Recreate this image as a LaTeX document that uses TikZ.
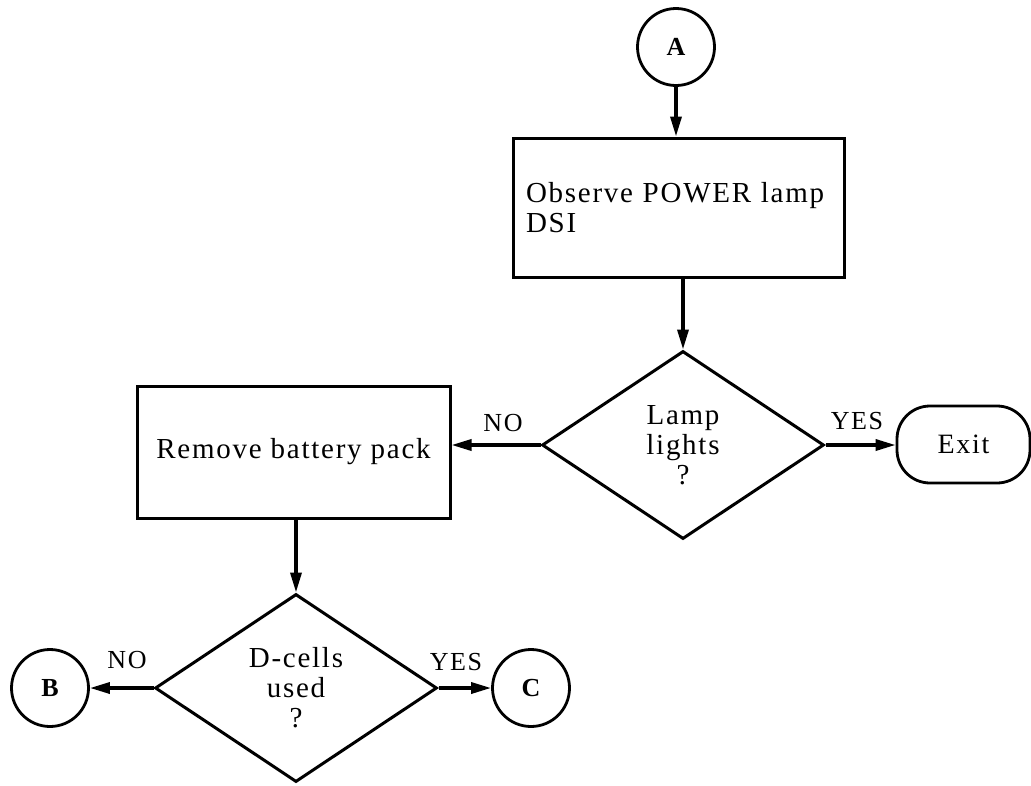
\documentclass[tikz,border=0pt]{standalone}
\usepackage{fontspec}
\setmainfont{Liberation Serif}[LetterSpace=6]
\usetikzlibrary{shapes.geometric,arrows.meta}
\begin{document}
\begin{tikzpicture}[x=1pt,y=-1pt,
  txt/.style={font=\fontsize{29}{30}\selectfont},
  lbl/.style={font=\fontsize{26}{26}\selectfont, inner sep=0pt},
  conn/.style={draw, circle, line width=2.8pt, minimum size=77pt, inner sep=0pt,
    font=\fontsize{26}{26}\selectfont\bfseries},
  stepbox/.style={draw, rectangle, line width=3pt, inner sep=0pt, txt},
  decide/.style={draw, diamond, line width=3pt, minimum width=282pt,
    minimum height=188pt, inner sep=0pt, align=center, txt},
  term/.style={draw, rectangle, rounded corners=33pt, line width=2.8pt,
    minimum width=133pt, minimum height=77pt, inner sep=0pt,
    font=\fontsize{28}{28}\selectfont},
  flow/.style={line width=3.4pt, -{Triangle[length=20pt,width=11pt]}}]
\useasboundingbox (0,0) rectangle (1031,785);

% nodes
\node[conn] (A) at (676,47) {A};
\node[stepbox, minimum height=139pt, text width=305pt, inner xsep=13pt,
      align=left] (observe) at (678.5,207.5) {Observe POWER lamp\\DSI};
\node[decide] (lamp) at (683,445) {Lamp\\lights\\?};
\node[term] (exit) at (963.5,444.5) {Exit};
\node[stepbox, minimum width=313pt, minimum height=132pt] (remove)
      at (293.5,452) {Remove battery pack};
\node[decide] (dcells) at (296,688) {D-cells\\used\\?};
\node[conn] (B) at (50,688) {B};
\node[conn] (C) at (531,688) {C};

% branch labels
\node[lbl] (no1) at (503,423) {NO};
\node[lbl] (yes1) at (857,421) {YES};
\node[lbl] (no2) at (127,660) {NO};
\node[lbl] (yes2) at (456,662) {YES};

% connectors
\draw[flow] (A.south) -- (A.south |- observe.north);
\draw[flow] (lamp.north |- observe.south) -- (lamp.north);
\draw[flow] (lamp.west) -- (lamp.west -| remove.east);
\draw[flow] (lamp.east) -- (lamp.east -| exit.west);
\draw[flow] (dcells.north |- remove.south) -- (dcells.north);
\draw[flow] (dcells.west) -- (dcells.west -| B.east);
\draw[flow] (dcells.east) -- (dcells.east -| C.west);
\end{tikzpicture}
\end{document}
